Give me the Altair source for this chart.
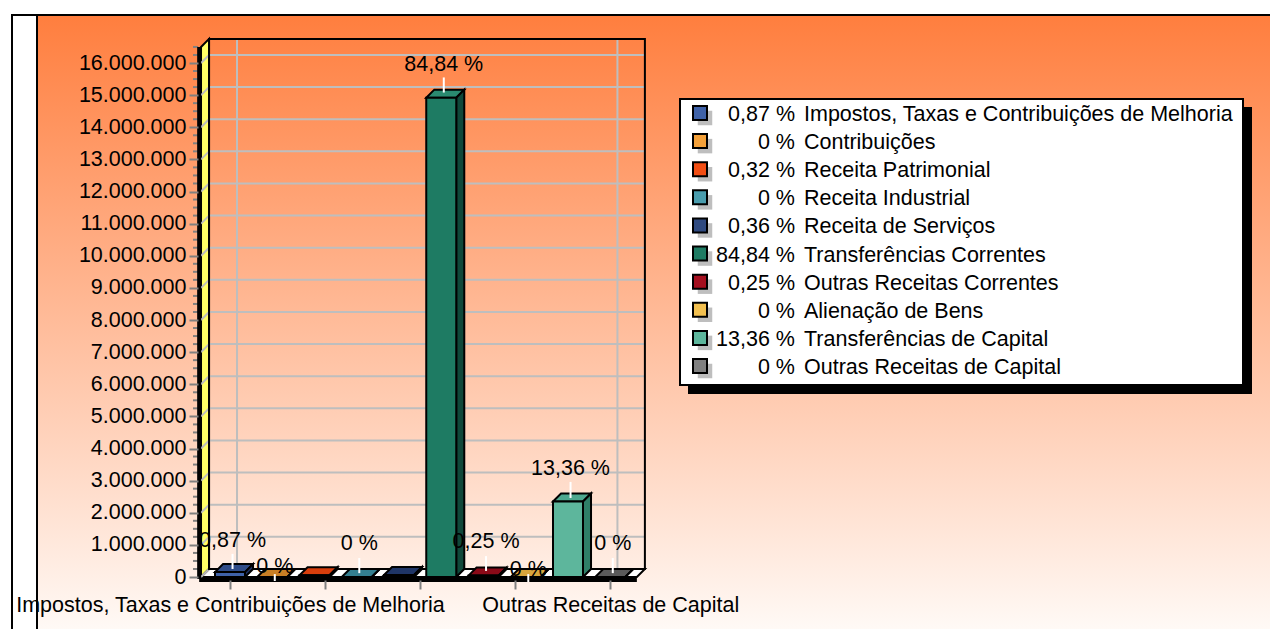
import altair as alt
import pandas as pd

FONT = "Liberation Sans"
FS = 21.5
W, H = 1262, 621

categories = ["Impostos, Taxas e Contribuições de Melhoria", "Contribuições", "Receita Patrimonial",
              "Receita Industrial", "Receita de Serviços", "Transferências Correntes",
              "Outras Receitas Correntes", "Alienação de Bens", "Transferências de Capital",
              "Outras Receitas de Capital"]
percents = ["0,87 %", "0 %", "0,32 %", "0 %", "0,36 %", "84,84 %", "0,25 %", "0 %", "13,36 %", "0 %"]
values = [153000, 0, 56000, 0, 63000, 14920000, 44000, 0, 2350000, 0]
fronts = ["#3F62A8", "#F4A13A", "#F24E14", "#4A9DAE", "#2F4A80", "#1E7B63", "#A50F1F", "#F2C050", "#5DB69C", "#808080"]
tops = ["#2F4C88", "#C97F25", "#D83E0C", "#347F90", "#1F3566", "#2A8A70", "#8A0A18", "#D9A63C", "#4DA88F", "#5A5A5A"]
sides = ["#1D3060", "#8F5A18", "#A02C08", "#235F6C", "#14244A", "#10483A", "#5E0610", "#A07A28", "#2F7F68", "#3C3C3C"]

shown = [0, 1, 3, 5, 6, 7, 8, 9]
label_heights = [1130000, 300000, 1030000, 15950000, 1080000, 230000, 3370000, 1030000]
leader_tops = [720000, 90000, 590000, 15550000, 650000, 90000, 2960000, 590000]
leader_bottoms = [250000, -125000, 120000, 15080000, 190000, -155000, 2460000, 120000]

major_ticks = [i * 1000000 for i in range(17)]
minor_ticks = [i * 250000 for i in range(67) if i % 4]

DX, DY = 0.19, 250000      # 3-D depth of the scene, in scale units
HALF = 0.355               # half bar width
WALL_L, WALL_R = -0.686, 9.63
YMAX = 16500000

xs = alt.Scale(domain=[0, 9], range=[222, 602.25])
ys = alt.Scale(domain=[0, 16000000], range=[569, 55])


def X(f="x", axis=None):
    return alt.X(f"{f}:Q", scale=xs, axis=axis, title=None)


def Y(f="y", axis=None):
    return alt.Y(f"{f}:Q", scale=ys, axis=axis, title=None, stack=None)


def px(v):
    return alt.value(v - 8)


# --- background and frame -------------------------------------------------
grad = alt.LinearGradient(gradient="linear", x1=0, x2=0, y1=0, y2=1,
                          stops=[alt.GradientStop(color="#FF7E3E", offset=0),
                                 alt.GradientStop(color="#FFFBF8", offset=1)])
one = pd.DataFrame({"k": [0]})
bg = alt.Chart(one).mark_rect(fill=grad).encode(x=px(37), x2=px(1278), y=px(15), y2=px(637))
frame = [
    alt.Chart(one).mark_rule(color="#000", strokeWidth=2).encode(x=px(12), y=px(14), y2=px(637)),
    alt.Chart(one).mark_rule(color="#000", strokeWidth=2).encode(x=px(37), y=px(15), y2=px(637)),
    alt.Chart(one).mark_rule(color="#000", strokeWidth=2).encode(x=px(11), x2=px(1278), y=px(15)),
]

# --- 3-D box --------------------------------------------------------------
wall = pd.DataFrame({"x": [WALL_L, WALL_L + DX], "y": [YMAX, YMAX + DY], "y2": [0, DY]})
floor = pd.DataFrame({"x": [WALL_L, WALL_L + DX, WALL_R, WALL_R + DX],
                      "y": [0, DY, DY, DY], "y2": [0, 0, 0, DY]})
backg = pd.DataFrame({"y": [v + DY for v in major_ticks], "x": WALL_L + DX, "x2": WALL_R + DX})
sideg = pd.DataFrame([{"t": v, "x": WALL_L + d, "y": v + (DY if d else 0)} for v in major_ticks for d in (0, DX)])
vertg = pd.DataFrame({"x": [0.166, 9.17], "y": DY, "y2": YMAX + DY})
box = pd.DataFrame({"x": [WALL_L + DX], "x2": [WALL_R + DX], "y": [DY], "y2": [YMAX + DY]})

wall_c = alt.Chart(wall).mark_area(fill="#FFFF66", stroke="#000", strokeWidth=2).encode(
    x=X(axis=alt.Axis(values=[0, 2.25, 4.5, 6.75, 9], orient="bottom", offset=572 - H, domain=False, grid=False, zindex=1,
                      tickColor="#808080", tickWidth=2, tickSize=9, labelFont=FONT, labelFontSize=FS, labelLimit=800,
                      labelColor="#000", labelPadding=5, labelOverlap=False, labelBound=False, labelFlush=False,
                      labelExpr=f"datum.value==0?'{categories[0]}':(datum.value==9?'{categories[9]}':'')")),
    y=Y(axis=alt.Axis(values=major_ticks, orient="left", offset=-190, domain=False, grid=False, zindex=1,
                      tickColor="#808080", tickWidth=2, tickSize=9, labelFont=FONT, labelFontSize=FS,
                      labelColor="#000", labelPadding=3, labelOverlap=False, labelBound=False, labelFlush=False,
                      labelExpr="replace(format(datum.value, ','), /,/g, '.')")),
    y2="y2:Q")
minor_c = alt.Chart(pd.DataFrame({"y": minor_ticks})).mark_rule(color="#808080", strokeWidth=2).encode(
    x=px(193), x2=px(198), y=Y())
floor_c = alt.Chart(floor).mark_area(fill="#FFFFFF", stroke="#000", strokeWidth=2).encode(x=X(), y=Y(), y2="y2:Q")
backg_c = alt.Chart(backg).mark_rule(color="#BEBEBE", strokeWidth=2).encode(x=X(), x2="x2:Q", y=Y())
sideg_c = alt.Chart(sideg).mark_line(color="#BEBEBE", strokeWidth=2).encode(x=X(), y=Y(), detail="t:N")
vertg_c = alt.Chart(vertg).mark_rule(color="#BEBEBE", strokeWidth=2).encode(x=X(), y=Y(), y2="y2:Q")
box_c = alt.Chart(box).mark_rect(fill="transparent", stroke="#000", strokeWidth=2).encode(x=X(), x2="x2:Q", y=Y(), y2="y2:Q")
edge_c = alt.Chart(pd.DataFrame({"x": [-0.73], "y": [-60000], "y2": [YMAX]})).mark_rule(color="#000", strokeWidth=4).encode(
    x=X(), y=Y(), y2="y2:Q")
base_c = alt.Chart(pd.DataFrame({"x": [-0.73], "x2": [WALL_R], "y": [-90000]})).mark_rule(color="#000", strokeWidth=4).encode(
    x=X(), x2="x2:Q", y=Y())

# --- bars -----------------------------------------------------------------
top_rows, side_rows, front_rows = [], [], []
for i, v in enumerate(values):
    L, R = i - HALF, i + HALF
    top_rows += [{"c": i, "x": L, "y": v, "y2": v}, {"c": i, "x": L + DX, "y": v + DY, "y2": v},
                 {"c": i, "x": R, "y": v + DY, "y2": v}, {"c": i, "x": R + DX, "y": v + DY, "y2": v + DY}]
    side_rows += [{"c": i, "x": R, "y": v, "y2": 0}, {"c": i, "x": R + DX, "y": v + DY, "y2": DY}]
    front_rows.append({"c": i, "x": L, "x2": R, "y": v, "y2": 0})
cdom = list(range(10))

top_c = alt.Chart(pd.DataFrame(top_rows)).mark_area(stroke="#000", strokeWidth=2).encode(
    x=X(), y=Y(), y2="y2:Q", fill=alt.Fill("c:O", scale=alt.Scale(domain=cdom, range=tops), legend=None), detail="c:O")
side_c = alt.Chart(pd.DataFrame(side_rows)).mark_area(stroke="#000", strokeWidth=2).encode(
    x=X(), y=Y(), y2="y2:Q", fill=alt.Fill("c:O", scale=alt.Scale(domain=cdom, range=sides), legend=None), detail="c:O")
front_c = alt.Chart(pd.DataFrame(front_rows)).mark_rect(stroke="#000", strokeWidth=2).encode(
    x=X(), x2="x2:Q", y=Y(), y2="y2:Q", fill=alt.Fill("c:O", scale=alt.Scale(domain=cdom, range=fronts), legend=None))

lab = pd.DataFrame({"x": [i + 0.06 for i in shown], "t": [percents[i] for i in shown], "y": label_heights,
                    "lt": leader_tops, "lb": leader_bottoms})
leader_c = alt.Chart(lab).mark_rule(color="#FFFFFF", strokeWidth=2).encode(x=X(), y=Y("lt"), y2="lb:Q")
label_c = alt.Chart(lab).mark_text(font=FONT, fontSize=FS, color="#000", baseline="middle").encode(
    x=X(), y=Y(), text="t:N")

# --- legend ---------------------------------------------------------------
leg = pd.DataFrame({"row": list(range(10)), "name": categories, "pct": percents, "c": cdom})
ry = alt.Y("row:Q", scale=alt.Scale(domain=[0, 9], range=[105, 358]), axis=None, title=None)
leg_layers = [
    alt.Chart(one).mark_rect(fill="#000").encode(x=px(688), x2=px(1252), y=px(107), y2=px(394)),
    alt.Chart(one).mark_rect(fill="#FFF", stroke="#000", strokeWidth=2).encode(x=px(680), x2=px(1243), y=px(99), y2=px(385)),
    alt.Chart(leg).mark_square(size=210, color="#BEBEBE", opacity=1, xOffset=5, yOffset=5).encode(x=px(700), y=ry),
    alt.Chart(leg).mark_square(size=196, stroke="#000", strokeWidth=2, opacity=1).encode(
        x=px(700), y=ry, fill=alt.Fill("c:O", scale=alt.Scale(domain=cdom, range=fronts), legend=None)),
    alt.Chart(leg).mark_text(font=FONT, fontSize=FS, align="right", baseline="middle", dy=2, color="#000").encode(x=px(795), y=ry, text="pct:N"),
    alt.Chart(leg).mark_text(font=FONT, fontSize=FS, align="left", baseline="middle", dy=2, color="#000").encode(x=px(804), y=ry, text="name:N"),
]

chart = alt.layer(bg, *frame, wall_c, minor_c, floor_c, backg_c, sideg_c, vertg_c, box_c, edge_c, base_c,
                  top_c, side_c, front_c, leader_c, label_c, *leg_layers).resolve_scale(
    x="independent", y="independent", fill="independent").properties(
    width=W, height=H, padding=0, autosize=alt.AutoSizeParams(type="none"), background="#FFFFFF"
).configure_view(stroke=None)

chart.save("out.html", embed_options={"renderer": "svg", "actions": False})
